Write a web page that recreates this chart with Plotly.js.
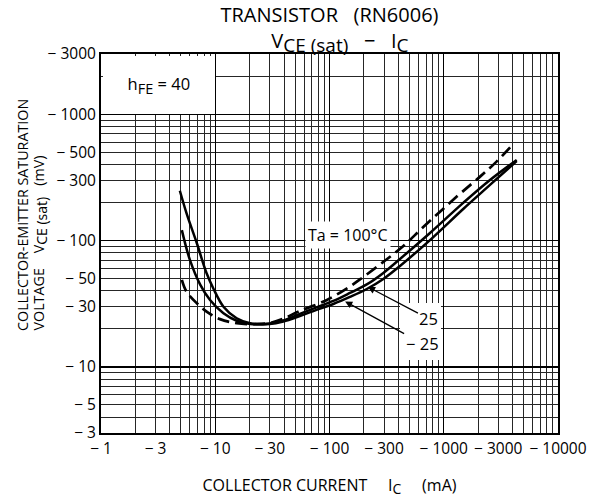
<!DOCTYPE html>
<html>
<head>
<meta charset="utf-8">
<script src="https://cdn.plot.ly/plotly-3.0.1.min.js"></script>
<style>html,body{margin:0;padding:0;background:#fff;}#chart{width:600px;height:500px;}</style>
</head>
<body>
<div id="chart"></div>
<script>
// ---- data ----
const icTa100  = [5.1, 5.6, 6.9, 8.4, 11, 15.4, 23, 30, 39, 55, 95, 151, 198, 296, 443, 662, 1300, 2080, 2900, 4060];
const vceTa100 = [48.8, 39.4, 31.9, 27.4, 23.9, 22.2, 21.8, 22.3, 24.0, 27.7, 33.9, 43.4, 51.6, 67.8, 90.7, 128, 223, 321, 422, 582];

const icTa25   = [5.1, 6.0, 7.4, 9.0, 11.8, 15.4, 20.2, 30, 39.4, 55, 77, 108, 151, 212, 296, 414, 758, 1480, 2540, 4350];
const vceTa25  = [121, 70.3, 44.6, 33.9, 26.6, 23.2, 21.9, 22.1, 23.3, 26.3, 29.6, 33.3, 38.5, 45.0, 55.5, 71.6, 115, 199, 302, 435];

const icTaM25  = [4.9, 5.6, 6.9, 8.4, 9.6, 11.8, 15.4, 20.2, 30, 39.4, 55, 77, 108, 151, 212, 296, 414, 758, 1480, 2540, 4350];
const vceTaM25 = [248, 165, 95.3, 55.1, 42.0, 30.0, 24.3, 22.2, 21.9, 22.9, 25.3, 28.3, 31.5, 35.8, 41.4, 49.7, 63.0, 101, 178, 276, 427];

const xTickVals = [1, 3, 10, 30, 100, 300, 1000, 3000, 10000];
const xTickText = ['\u2212 1', '\u2212 3', '\u2212 10', '\u2212 30', '\u2212 100', '\u2212 300', '\u2212 1000', '\u2212 3000', '\u2212 10000'];
const yTickVals = [3, 5, 10, 30, 50, 100, 300, 500, 1000, 3000];
const yTickText = ['\u2212 3', '\u2212 5', '\u2212 10', '\u2212 30', '\u2212 50', '\u2212 100', '\u2212 300', '\u2212 500', '\u2212 1000', '\u2212 3000'];

const xMin = 1, xMax = 10000, yMin = 3, yMax = 3000;

// ---- helpers ----
const FONT = 'Open Sans, Noto Sans, DejaVu Sans, sans-serif';
const NB = '\u00A0';
const sp = n => NB.repeat(n);
function minorVals(lo, hi) {
  const out = [];
  for (let d = Math.floor(Math.log10(lo)); d <= Math.ceil(Math.log10(hi)); d++) {
    for (let k = 2; k <= 9; k++) {
      const v = k * Math.pow(10, d);
      if (v > lo && v < hi) out.push(v);
    }
  }
  return out;
}
function decades(lo, hi) {
  const out = [];
  for (let d = Math.ceil(Math.log10(lo)); d <= Math.floor(Math.log10(hi)); d++) out.push(Math.pow(10, d));
  return out;
}
const eps = 1e-4;
const xRange = [Math.log10(xMin) - eps, Math.log10(xMax) + eps];
const yRange = [Math.log10(yMin) - eps, Math.log10(yMax) + eps];
const px = v => (Math.log10(v) - xRange[0]) / (xRange[1] - xRange[0]);
const py = v => (Math.log10(v) - yRange[0]) / (yRange[1] - yRange[0]);

const M = {l: 101, r: 42, t: 54, b: 67};
const PW = 600 - M.l - M.r, PH = 500 - M.t - M.b;

const lineStyle = {color: '#000', width: 2.5, shape: 'spline', smoothing: 1};

const traces = [
  {x: icTaM25, y: vceTaM25, mode: 'lines', line: lineStyle, name: '-25', hoverinfo: 'skip'},
  {x: icTa25, y: vceTa25, mode: 'lines', line: lineStyle, name: '25', hoverinfo: 'skip'},
  {x: icTa100, y: vceTa100, mode: 'lines', line: Object.assign({}, lineStyle, {dash: '12px,6px', width: 2.7}), name: '100', hoverinfo: 'skip'},
  {x: [], y: [], xaxis: 'x2', yaxis: 'y2', mode: 'lines', showlegend: false, hoverinfo: 'skip'}
];

const gridThin = {color: '#262626', width: 1};
const sub = t => '<sub><span style="font-size:' + t.size + 'px">' + t.text + '</span></sub>';

// hFE box: from inside the frame to just before the x=10 / y=1000 decade lines
const boxL = 1.5, boxT = 1.5;
const boxW = PW * px(10) - boxL - 1;
const boxH = PH * (1 - py(1000)) - boxT - 1;

const layout = {
  width: 600, height: 500,
  margin: M,
  paper_bgcolor: '#fff', plot_bgcolor: '#fff',
  showlegend: false,
  font: {family: FONT, size: 15, color: '#000'},
  title: {
    text: 'TRANSISTOR' + sp(3) + '(RN6006)<br>' + sp(4) + 'V' + sub({text: 'CE (sat)', size: 19}) + sp(3) + '\u2212' + sp(3) + 'I' + sub({text: 'C', size: 19}),
    font: {family: FONT, size: 20, color: '#000'},
    x: 0.5, xref: 'paper', xanchor: 'center',
    y: 0.956, yref: 'container', yanchor: 'top'
  },
  xaxis: {
    type: 'log', range: xRange, fixedrange: true,
    tickmode: 'array', tickvals: xTickVals, ticktext: xTickText, ticks: '',
    tickfont: {family: FONT, size: 15.5, color: '#000'},
    showgrid: true, gridcolor: gridThin.color, gridwidth: gridThin.width,
    minor: {tickmode: 'array', tickvals: minorVals(xMin, xMax), showgrid: true, gridcolor: gridThin.color, gridwidth: gridThin.width, ticks: ''},
    showline: true, linecolor: '#000', linewidth: 2, mirror: true, zeroline: false,
    title: {text: 'COLLECTOR CURRENT' + sp(5) + 'I' + sub({text: 'C', size: 14}) + sp(5) + '(mA)', font: {family: FONT, size: 16, color: '#000'}, standoff: 22}
  },
  yaxis: {
    type: 'log', range: yRange, fixedrange: true,
    tickmode: 'array', tickvals: yTickVals, ticktext: yTickText, ticks: '',
    tickfont: {family: FONT, size: 15.5, color: '#000'},
    showgrid: true, gridcolor: gridThin.color, gridwidth: gridThin.width,
    minor: {tickmode: 'array', tickvals: minorVals(yMin, yMax), showgrid: true, gridcolor: gridThin.color, gridwidth: gridThin.width, ticks: ''},
    showline: true, linecolor: '#000', linewidth: 2, mirror: true, zeroline: false
  },
  xaxis2: {
    type: 'log', range: xRange, overlaying: 'x', anchor: 'y2', side: 'bottom', fixedrange: true,
    tickmode: 'array', tickvals: decades(xMin, xMax), showticklabels: false, ticks: '',
    showgrid: true, gridcolor: '#000', gridwidth: 1.5, showline: false, zeroline: false
  },
  yaxis2: {
    type: 'log', range: yRange, overlaying: 'y', anchor: 'x2', side: 'left', fixedrange: true,
    tickmode: 'array', tickvals: decades(yMin, yMax), showticklabels: false, ticks: '',
    showgrid: true, gridcolor: '#000', gridwidth: 1.5, showline: false, zeroline: false
  },
  annotations: [
    // hFE note in a white cell at the top-left
    {text: 'h' + sub({text: 'FE', size: 14.5}) + ' = 40', xref: 'paper', yref: 'paper',
     x: boxL / PW, y: 1 - boxT / PH, xanchor: 'left', yanchor: 'top',
     width: boxW, height: boxH, align: 'center', valign: 'middle',
     bgcolor: '#fff', borderpad: 0, borderwidth: 0, showarrow: false,
     font: {family: FONT, size: 16.5, color: '#000'}},
    {text: 'Ta = 100\u00B0C', xref: 'paper', yref: 'paper', x: 0.5405, y: 0.5224,
     xanchor: 'center', yanchor: 'middle', showarrow: false, bgcolor: '#fff', borderpad: 2,
     font: {family: FONT, size: 16, color: '#000'}},
    // white patch behind the 25 / -25 labels
    {text: ' ', xref: 'paper', yref: 'paper', x: 0.654, y: 0.343, xanchor: 'left', yanchor: 'top',
     width: 41, height: 57, bgcolor: '#fff', borderpad: 0, borderwidth: 0, showarrow: false},
    {text: '25', xref: 'x', yref: 'y', x: Math.log10(217), y: Math.log10(43),
     ax: 61, ay: 32, showarrow: true, arrowhead: 2, arrowsize: 1.1, arrowwidth: 1.3, arrowcolor: '#000',
     standoff: 0, font: {family: FONT, size: 16.5, color: '#000'}},
    {text: '\u2212 25', xref: 'x', yref: 'y', x: Math.log10(137), y: Math.log10(33),
     ax: 77, ay: 42, showarrow: true, arrowhead: 2, arrowsize: 1.1, arrowwidth: 1.3, arrowcolor: '#000',
     standoff: 0, font: {family: FONT, size: 16.5, color: '#000'}},
    {text: 'COLLECTOR-EMITTER SATURATION', xref: 'paper', yref: 'paper',
     x: (22 - 101) / 457, y: (433 - 333) / 379, xanchor: 'center', yanchor: 'bottom', textangle: -90,
     showarrow: false, font: {family: FONT, size: 14.3, color: '#000'}},
    {text: 'VOLTAGE' + sp(4) + 'V' + sub({text: 'CE (sat)', size: 14}) + sp(3) + '(mV)', xref: 'paper', yref: 'paper',
     x: (39 - 101) / 457, y: (433 - 333) / 379, xanchor: 'center', yanchor: 'bottom', textangle: -90,
     showarrow: false, font: {family: FONT, size: 14.3, color: '#000'}}
  ]
};

Plotly.newPlot('chart', traces, layout, {staticPlot: true, displayModeBar: false});
</script>
</body>
</html>
